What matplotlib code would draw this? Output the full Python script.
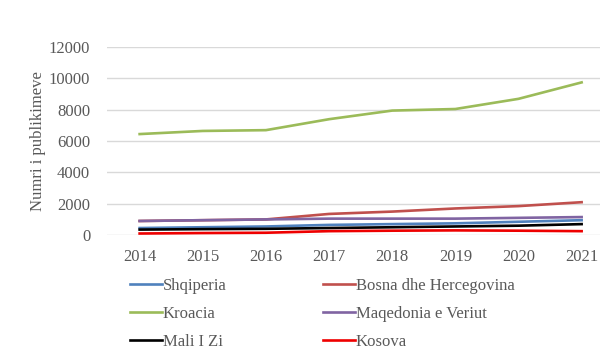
import matplotlib.pyplot as plt

plt.rcParams['font.family'] = ['Liberation Serif', 'DejaVu Serif']

years = [2014, 2015, 2016, 2017, 2018, 2019, 2020, 2021]
shqiperia = [450, 500, 550, 650, 700, 750, 850, 950]
bosna = [900, 950, 1000, 1350, 1500, 1700, 1850, 2100]
kroacia = [6450, 6650, 6700, 7400, 7950, 8050, 8700, 9750]
maqedonia = [900, 950, 1000, 1050, 1050, 1050, 1100, 1150]
mali_i_zi = [350, 380, 400, 450, 500, 550, 600, 700]
kosova = [100, 130, 150, 250, 280, 300, 280, 250]

series = [
    ('Shqiperia', shqiperia, '#4f81bd'),
    ('Bosna dhe Hercegovina', bosna, '#c0504d'),
    ('Kroacia', kroacia, '#9bbb59'),
    ('Maqedonia e Veriut', maqedonia, '#8064a2'),
    ('Mali I Zi', mali_i_zi, '#000000'),
    ('Kosova', kosova, '#ee0000'),
]

fig = plt.figure(figsize=(6, 3.6), dpi=100)
ax = fig.add_axes([0.178, 0.347, 0.844, 0.522])

for name, vals, col in series:
    ax.plot(years, vals, color=col, lw=1.9, label=name)

ax.set_xlim(2013.48, 2021.5)
ax.set_ylim(0, 12000)
ax.set_yticks(range(0, 12001, 2000))
ax.set_xticks(years)
ax.grid(axis='y', color='#d9d9d9', lw=1)
ax.set_axisbelow(True)
for s in ax.spines.values():
    s.set_visible(False)
ax.tick_params(length=0, labelsize=12, colors='#595959', pad=10)
ax.tick_params(axis='y', pad=12)
ax.set_ylabel('Numri i publikimeve', fontsize=12, color='#595959', labelpad=2)

# legend filled row by row like the original
handles, labels = ax.get_legend_handles_labels()
order = [0, 2, 4, 1, 3, 5]
leg = fig.legend([handles[i] for i in order], [labels[i] for i in order],
                 loc='upper left', bbox_to_anchor=(0.192, 0.27), ncol=2,
                 frameon=False, prop={'family': 'Liberation Serif', 'size': 12},
                 handlelength=1.9, handletextpad=0.05,
                 columnspacing=5.8, labelspacing=0.72)
for t in leg.get_texts():
    t.set_color('#595959')

fig.savefig('out.png', dpi=100)
